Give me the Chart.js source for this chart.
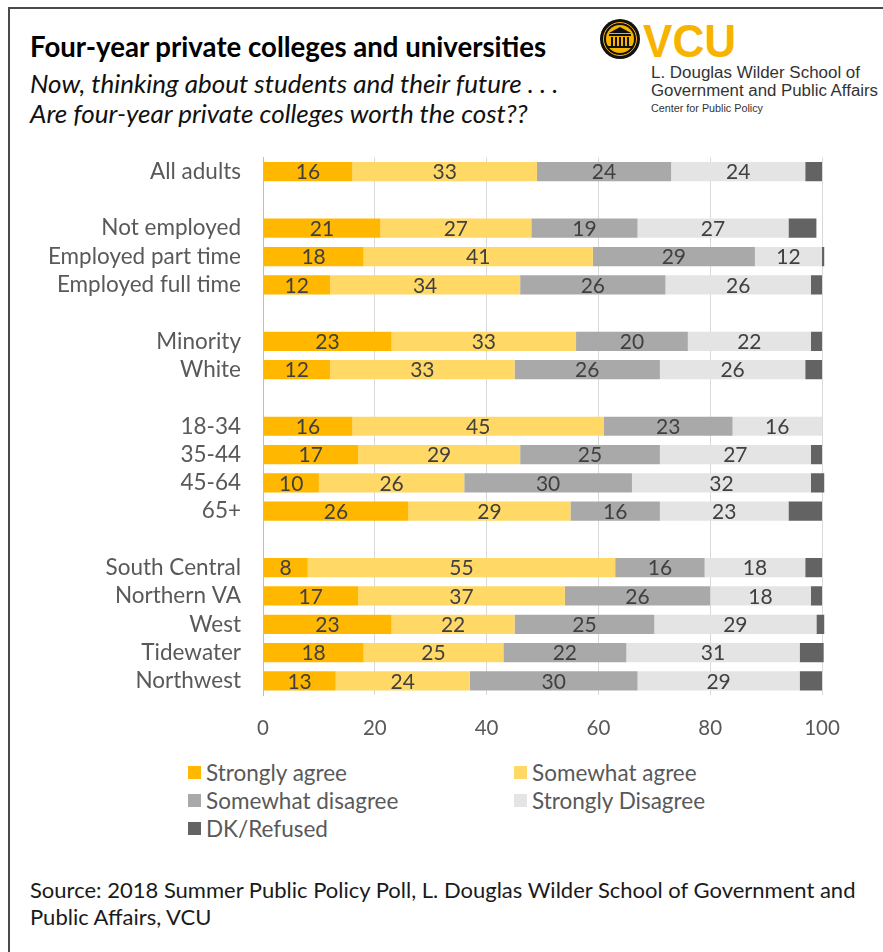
<!DOCTYPE html>
<html>
<head>
<meta charset="utf-8">
<script src="https://cdn.jsdelivr.net/npm/chart.js@4.4.1/dist/chart.umd.min.js"></script>
<style>
  html, body { margin: 0; padding: 0; background: #fff; }
  body { width: 883px; height: 952px; position: relative; overflow: hidden; font-family: Lato, "Open Sans", sans-serif; }
  .frame { position: absolute; left: 8px; top: 7px; width: 880px; height: 950px; border-top: 2px solid #4a4a4a; border-left: 2px solid #4a4a4a; }
  .txt { position: absolute; white-space: nowrap; }
  #title { left: 30px; top: 31px; font-size: 27.6px; line-height: 32px; font-weight: bold; color: #000; }
  #sub1 { left: 30px; top: 68px; font-size: 26px; line-height: 30px; font-style: italic; color: #111; }
  #sub2 { left: 30px; top: 98px; font-size: 26px; line-height: 30px; font-style: italic; color: #111; }
  #src1 { left: 30px; top: 876px; font-size: 22px; line-height: 28px; color: #1a1a1a; }
  #src2 { left: 30px; top: 903px; font-size: 22px; line-height: 28px; color: #1a1a1a; }
  #chartBox { position: absolute; left: 0; top: 122px; width: 883px; height: 628px; }
  #legend { position: absolute; left: 0; top: 0; }
  .lg { position: absolute; font-size: 22.5px; line-height: 26px; color: #595959; white-space: nowrap; }
  .lg i { position: absolute; left: 0; top: 6px; width: 13px; height: 13px; }
  .lg span { position: absolute; left: 18px; top: 0; }
  #logo { position: absolute; left: 0; top: 0; }
</style>
</head>
<body>
<div class="frame"></div>

<svg id="logo" width="883" height="130">
  <g>
    <circle cx="620" cy="39" r="20" fill="#111"/>
    <circle cx="620" cy="39" r="16.5" fill="none" stroke="#f8b300" stroke-width="1"/>
    <circle cx="620" cy="39" r="14" fill="#f8b300"/>
    <path d="M609 33 L620 27 L631 33 Z" fill="#111"/>
    <rect x="609" y="34" width="22" height="2" fill="#111"/>
    <rect x="611" y="37" width="2" height="9" fill="#111"/>
    <rect x="615" y="37" width="2" height="9" fill="#111"/>
    <rect x="619" y="37" width="2" height="9" fill="#111"/>
    <rect x="623" y="37" width="2" height="9" fill="#111"/>
    <rect x="627" y="37" width="2" height="9" fill="#111"/>
    <rect x="608" y="46" width="24" height="2" fill="#111"/>
  </g>
  <text x="643" y="57" font-family="Liberation Sans, Arial, sans-serif" font-weight="bold" font-size="47" fill="#f8b300" textLength="93" lengthAdjust="spacingAndGlyphs">VCU</text>
  <text x="651" y="78" font-family="Liberation Sans, Arial, sans-serif" font-size="16" fill="#333" textLength="209" lengthAdjust="spacingAndGlyphs">L. Douglas Wilder School of</text>
  <text x="651" y="96" font-family="Liberation Sans, Arial, sans-serif" font-size="16" fill="#333" textLength="227" lengthAdjust="spacingAndGlyphs">Government and Public Affairs</text>
  <text x="651" y="112" font-family="Liberation Sans, Arial, sans-serif" font-size="10" fill="#333" textLength="112" lengthAdjust="spacingAndGlyphs">Center for Public Policy</text>
</svg>

<div class="txt" id="title">Four-year private colleges and universities</div>
<div class="txt" id="sub1">Now, thinking about students and their future . . .</div>
<div class="txt" id="sub2">Are four-year private colleges worth the cost??</div>

<div id="chartBox"><canvas id="chart" width="883" height="628"></canvas></div>
<div id="legend"></div>

<div class="txt" id="src1">Source: 2018 Summer Public Policy Poll, L. Douglas Wilder School of Government and</div>
<div class="txt" id="src2">Public Affairs, VCU</div>

<script>
// Respondent groups; empty labels leave a gap between the groups.
const categories = [
  'All adults', '',
  'Not employed', 'Employed part time', 'Employed full time', '',
  'Minority', 'White', '',
  '18-34', '35-44', '45-64', '65+', '',
  'South Central', 'Northern VA', 'West', 'Tidewater', 'Northwest'
];

// Percent of each group giving each answer.
const stronglyAgree    = [16, null, 21, 18, 12, null, 23, 12, null, 16, 17, 10, 26, null,  8, 17, 23, 18, 13];
const somewhatAgree    = [33, null, 27, 41, 34, null, 33, 33, null, 45, 29, 26, 29, null, 55, 37, 22, 25, 24];
const somewhatDisagree = [24, null, 19, 29, 26, null, 20, 26, null, 23, 25, 30, 16, null, 16, 26, 25, 22, 30];
const stronglyDisagree = [24, null, 27, 12, 26, null, 22, 26, null, 16, 27, 32, 23, null, 18, 18, 29, 31, 29];
const dkRefused        = [ 3, null,  5, 0.4, 2, null,  2,  3, null,  0,  2, 2.4, 6, null,  3,  2, 1.4, 4.3, 4];

const xTicks = [0, 20, 40, 60, 80, 100];

const seriesNames = ['Strongly agree', 'Somewhat agree', 'Somewhat disagree', 'Strongly Disagree', 'DK/Refused'];
const seriesColors = ['#ffb700', '#ffd866', '#a9a9a9', '#e4e4e4', '#636363'];
const seriesData = [stronglyAgree, somewhatAgree, somewhatDisagree, stronglyDisagree, dkRefused];
const labelledSeries = [true, true, true, true, false];

const FONT = 'Lato, "Open Sans", sans-serif';

// Writes each segment's value in the middle of the segment.
const segmentLabels = {
  id: 'segmentLabels',
  afterDatasetsDraw(chart) {
    const ctx = chart.ctx;
    ctx.save();
    ctx.font = '21px ' + FONT;
    ctx.fillStyle = '#404040';
    ctx.textAlign = 'center';
    ctx.textBaseline = 'middle';
    chart.data.datasets.forEach((ds, i) => {
      if (!ds.showValues) return;
      chart.getDatasetMeta(i).data.forEach((bar, j) => {
        const v = ds.data[j];
        if (v === null || v === undefined) return;
        const cx = (bar.x + bar.base) / 2;
        ctx.fillText(String(Math.round(v)), cx, bar.y + 1);
      });
    });
    ctx.restore();
  }
};

const chart = new Chart(document.getElementById('chart'), {
  type: 'bar',
  data: {
    labels: categories,
    datasets: seriesNames.map((name, i) => ({
      label: name,
      data: seriesData[i],
      backgroundColor: seriesColors[i],
      borderWidth: 0,
      barPercentage: 0.68,
      categoryPercentage: 1,
      clip: 6,
      showValues: labelledSeries[i]
    }))
  },
  options: {
    indexAxis: 'y',
    responsive: false,
    animation: false,
    devicePixelRatio: 1,
    layout: { padding: { top: 8, right: 61, left: 0, bottom: 0 } },
    plugins: { legend: { display: false }, tooltip: { enabled: false } },
    scales: {
      x: {
        stacked: true,
        min: 0,
        max: 100,
        afterBuildTicks(scale) { scale.ticks = xTicks.map(v => ({ value: v })); },
        afterFit(scale) { scale.height = 55; },
        grid: { color: '#d9d9d9', lineWidth: 1, drawTicks: false },
        border: { display: false },
        ticks: {
          padding: 21,
          color: '#595959',
          font: { family: FONT, size: 20.5 }
        }
      },
      y: {
        stacked: true,
        afterFit(scale) { scale.width = 263; },
        grid: { display: false, drawTicks: false },
        border: { display: true, color: '#bfbfbf', width: 1 },
        ticks: {
          padding: 22,
          color: '#595959',
          autoSkip: false,
          font: { family: FONT, size: 22.5 }
        }
      }
    }
  },
  plugins: [segmentLabels]
});

// Legend laid out in two columns below the chart.
const legendSlots = [
  { x: 188, y: 760 }, { x: 514, y: 760 },
  { x: 188, y: 788 }, { x: 514, y: 788 },
  { x: 188, y: 816 }
];
const legendEl = document.getElementById('legend');
chart.data.datasets.forEach((ds, i) => {
  const item = document.createElement('div');
  item.className = 'lg';
  item.style.left = legendSlots[i].x + 'px';
  item.style.top = legendSlots[i].y + 'px';
  const sw = document.createElement('i');
  sw.style.background = ds.backgroundColor;
  const tx = document.createElement('span');
  tx.textContent = ds.label;
  item.appendChild(sw);
  item.appendChild(tx);
  legendEl.appendChild(item);
});
</script>
</body>
</html>
